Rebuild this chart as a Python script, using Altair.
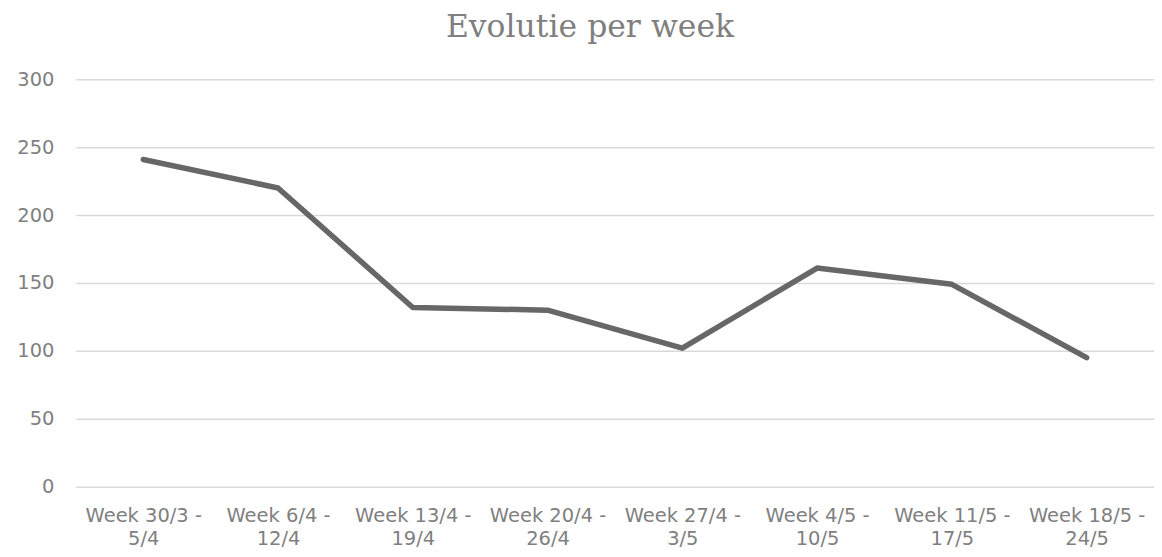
import altair as alt
import pandas as pd

weeks = [
    "Week 30/3 -|5/4",
    "Week 6/4 -|12/4",
    "Week 13/4 -|19/4",
    "Week 20/4 -|26/4",
    "Week 27/4 -|3/5",
    "Week 4/5 -|10/5",
    "Week 11/5 -|17/5",
    "Week 18/5 -|24/5",
]
values = [241, 220, 132, 130, 102, 161, 149, 95]

df = pd.DataFrame({"week": weeks, "value": values})

text_color = "#7f7f7f"
font = "DejaVu Sans"

chart = (
    alt.Chart(df)
    .mark_line(color="#676767", strokeWidth=5.5, strokeCap="round", strokeJoin="round")
    .encode(
        x=alt.X(
            "week:N",
            sort=weeks,
            title=None,
            scale=alt.Scale(paddingInner=0, paddingOuter=0),
            axis=alt.Axis(
                labelExpr="split(datum.label, '|')",
                labelAngle=0,
                labelFont=font,
                labelFontSize=19.5,
                labelColor=text_color,
                labelPadding=35,
                labelLineHeight=23,
                labelBaseline="alphabetic",
                ticks=False,
                domain=False,
                grid=False,
            ),
        ),
        y=alt.Y(
            "value:Q",
            title=None,
            scale=alt.Scale(domain=[0, 300], nice=False),
            axis=alt.Axis(
                values=[0, 50, 100, 150, 200, 250, 300],
                labelFont=font,
                labelFontSize=19.5,
                labelColor=text_color,
                labelPadding=22,
                ticks=False,
                domain=False,
                gridColor="#d9d9d9",
                gridWidth=1.5,
            ),
        ),
    )
    .properties(
        width=1080,
        height=408,
        title=alt.TitleParams(
            "Evolutie per week",
            font="DejaVu Serif",
            fontSize=31.5,
            fontWeight="normal",
            color=text_color,
            anchor="middle",
            dx=-25,
            offset=26,
        ),
        autosize=alt.AutoSizeParams(type="none"),
        padding={"left": 68, "top": 71, "right": 0, "bottom": 62},
    )
    .configure_view(stroke=None)
)

chart.save("out.html", embed_options={"renderer": "svg", "actions": False})
